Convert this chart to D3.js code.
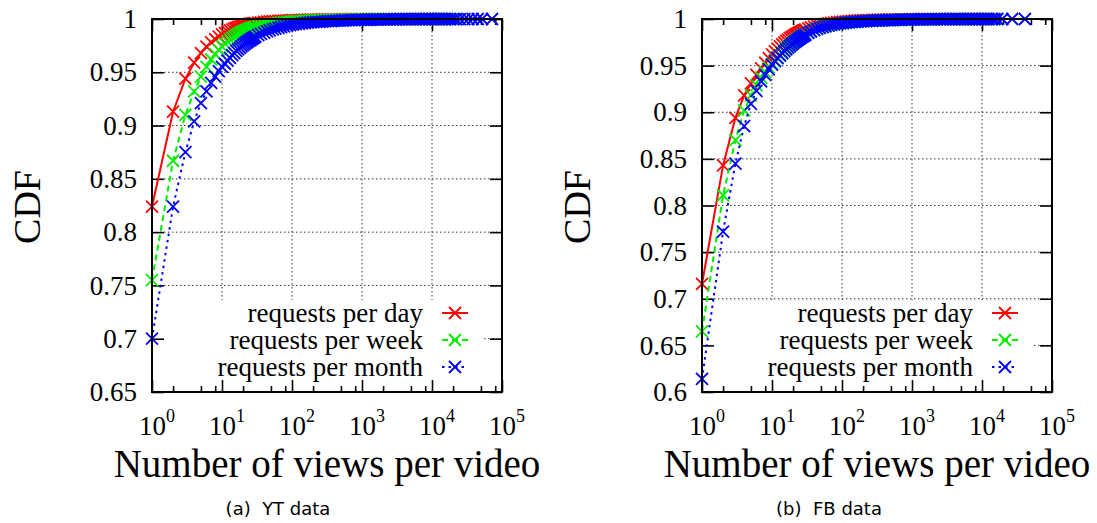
<!DOCTYPE html>
<html>
<head>
<meta charset="utf-8">
<script src="https://cdn.jsdelivr.net/npm/d3@7"></script>
<style>
  html, body { margin: 0; padding: 0; background: #fff; }
  svg { display: block; }
</style>
</head>
<body>
<svg id="fig" width="1097" height="523"></svg>
<script>
// ---- YT panel: views per video and CDF of each request window ----
const ytViews = [
  1, 2, 3, 4, 5, 6, 7, 8, 9, 10,
  11, 12, 13, 14, 15, 16, 17, 18, 19, 20,
  21, 22, 23, 24, 25, 26, 27, 28, 29, 30,
  33, 36, 40, 44, 48, 53, 58, 64, 70, 77,
  85, 94, 103, 113, 125, 138, 152, 167, 184, 202,
  222, 245, 270, 297, 327, 360, 396, 436, 480, 528,
  581, 640, 704, 775, 853, 939, 1030, 1140, 1250, 1380,
  1520, 1670, 1840, 2020, 2220, 2450, 2690, 2960, 3260, 3590,
  3950, 4350, 4780, 5260, 5790, 6370, 7010, 7710, 8480, 9330,
  10300, 11300, 12400, 13700, 15000, 16500, 18200, 20000, 22000, 25000,
  29000, 33000, 38000, 45000, 52000, 72000
];
const ytDay = [
  .824, .913, .944, .959, .968, .974, .978, .981, .9835, .9855,
  .9870, .9883, .9894, .9903, .9911, .9918, .9924, .9929, .9934, .9938,
  .9942, .9945, .9948, .9951, .9953, .9955, .9957, .9959, .9961, .9962,
  .9966, .9969, .9972, .9975, .9977, .9979, .9981, .9983, .9984, .9985,
  .9987, .9988, .9989, .9990, .9991, .9992, .9992, .9993, .9994, .9994,
  .9995, .9995, .9996, .9996, .9996, .9997, .9997, .9997, .9998, .9998,
  .9998, .9998, .9998, .9999, .9999, .9999, .9999, .9999, .9999, .9999,
  .99990, .99991, .99992, .99993, .99994, .99994, .99995, .99995, .99996, .99996,
  .99997, .99997, .99997, .99998, .99998, .99998, .99998, .99999, .99999, .99999,
  .99999, .99999, .99999, 1, 1
];
const ytWeek = [
  .755, .867, .910, .932, .946, .955, .962, .967, .971, .9743,
  .9768, .9790, .9808, .9824, .9837, .9849, .9859, .9868, .9876, .9883,
  .9889, .9895, .9900, .9905, .9909, .9913, .9916, .9919, .9922, .9925,
  .9932, .9938, .9944, .9949, .9953, .9957, .9960, .9964, .9967, .9970,
  .9972, .9975, .9977, .9979, .9981, .9982, .9984, .9985, .9986, .9987,
  .9988, .9989, .9990, .9991, .9992, .9992, .9993, .9994, .9994, .9995,
  .9995, .9996, .9996, .9996, .9997, .9997, .9997, .9998, .9998, .9998,
  .9998, .9998, .99985, .99987, .99988, .99989, .99990, .99991, .99992, .99993,
  .99994, .99994, .99995, .99995, .99996, .99996, .99997, .99997, .99998, .99998,
  .99998, .99998, .99999, .99999, .99999, .99999, .99999, .99999, 1
];
const ytMonth = [
  .700, .824, .875, .904, .921, .932, .940, .946, .951, .955,
  .958, .961, .9635, .966, .968, .970, .9715, .973, .9743, .9755,
  .9766, .9776, .9785, .9794, .9802, .9809, .9816, .9822, .9828, .9834,
  .9848, .9860, .9873, .9884, .9893, .9902, .9910, .9918, .9925, .9931,
  .9937, .9942, .9947, .9951, .9955, .9959, .9962, .9965, .9968, .9970,
  .9972, .9974, .9976, .9978, .9980, .9981, .9983, .9984, .9985, .9986,
  .9987, .9988, .9989, .9990, .9991, .9991, .9992, .9993, .9993, .9994,
  .9994, .9995, .9995, .9996, .9996, .9996, .9997, .9997, .9997, .9998,
  .9998, .9998, .9998, .9998, .9999, .9999, .9999, .9999, .9999, .9999,
  .99991, .99992, .99993, .99994, .99995, .99996, .99996, .99997, .99997, .99998,
  .99998, .99998, .99999, .99999, .99999, 1
];

// ---- FB panel ----
const fbViews = [
  1, 2, 3, 4, 5, 6, 7, 8, 9, 10,
  11, 12, 13, 14, 15, 16, 17, 18, 19, 20,
  21, 22, 23, 24, 25, 26, 27, 28, 29, 30,
  33, 36, 40, 44, 48, 53, 58, 64, 70, 77,
  85, 94, 103, 113, 125, 138, 152, 167, 184, 202,
  222, 245, 270, 297, 327, 360, 396, 436, 480, 528,
  581, 640, 704, 775, 853, 939, 1030, 1140, 1250, 1380,
  1520, 1670, 1840, 2020, 2220, 2450, 2690, 2960, 3260, 3590,
  3950, 4350, 4780, 5260, 5790, 6370, 7010, 7710, 8480, 9330,
  10300, 11300, 12400, 13700, 15000, 16500, 19500, 27000, 41000
];
const fbDay = [
  .716, .843, .894, .918, .931, .940, .947, .953, .958, .962,
  .9653, .9682, .9707, .9729, .9748, .9765, .9780, .9794, .9806, .9817,
  .9827, .9836, .9844, .9852, .9859, .9865, .9871, .9877, .9882, .9887,
  .9899, .9909, .9919, .9928, .9935, .9942, .9948, .9953, .9958, .9962,
  .9966, .9970, .9973, .9975, .9978, .9980, .9982, .9984, .9985, .9987,
  .9988, .9989, .9990, .9991, .9992, .9993, .9993, .9994, .9995, .9995,
  .9996, .9996, .9997, .9997, .9997, .9998, .9998, .9998, .9998, .9999,
  .99991, .99992, .99993, .99994, .99994, .99995, .99995, .99996, .99996, .99997,
  .99997, .99997, .99998, .99998, .99998, .99999, .99999, .99999, .99999, .99999,
  .99999, .99999, .99999, 1
];
const fbWeek = [
  .665, .811, .870, .902, .918, .929, .937, .943, .948, .952,
  .9555, .9587, .9615, .9640, .9662, .9682, .9700, .9716, .9731, .9745,
  .9757, .9769, .9780, .9790, .9799, .9808, .9816, .9823, .9830, .9837,
  .9855, .9870, .9884, .9896, .9906, .9915, .9923, .9930, .9936, .9942,
  .9947, .9952, .9956, .9959, .9963, .9966, .9969, .9971, .9974, .9976,
  .9978, .9979, .9981, .9982, .9984, .9985, .9986, .9987, .9988, .9989,
  .9990, .9991, .9992, .9992, .9993, .9994, .9994, .9995, .9995, .9996,
  .9996, .9996, .9997, .9997, .9997, .9998, .9998, .9998, .9998, .9998,
  .9999, .9999, .9999, .9999, .9999, .9999, .99992, .99993, .99994, .99995,
  .99996, .99997, .99998, .99998, .99999, 1
];
const fbMonth = [
  .614, .772, .845, .885, .909, .923, .933, .940, .946, .951,
  .9548, .9580, .9608, .9633, .9655, .9675, .9693, .9709, .9724, .9738,
  .9751, .9763, .9774, .9784, .9793, .9802, .9810, .9817, .9824, .9831,
  .9850, .9866, .9881, .9894, .9904, .9914, .9922, .9930, .9936, .9942,
  .9947, .9952, .9956, .9960, .9963, .9966, .9969, .9972, .9974, .9976,
  .9978, .9980, .9981, .9983, .9984, .9985, .9986, .9987, .9988, .9989,
  .9990, .9991, .9992, .9993, .9993, .9994, .9995, .9995, .9996, .9996,
  .9996, .9997, .9997, .9997, .9998, .9998, .9998, .9998, .9999, .9999,
  .9999, .9999, .9999, .9999, .9999, .99992, .99993, .99994, .99995, .99996,
  .99996, .99997, .99997, .99998, .99998, .99999, .99999, .99999, 1
];

// ---- axes ----
const xMajor = [1, 10, 100, 1000, 10000, 100000];
const xExponents = ["0", "1", "2", "3", "4", "5"];
const xMinor = [2, 5, 8, 20, 50, 80, 200, 500, 800, 2000, 5000, 8000, 20000, 50000, 80000];
const ytYTicks = [0.65, 0.7, 0.75, 0.8, 0.85, 0.9, 0.95, 1];
const fbYTicks = [0.6, 0.65, 0.7, 0.75, 0.8, 0.85, 0.9, 0.95, 1];

const seriesNames = ["requests per day", "requests per week", "requests per month"];
const seriesColors = ["#ff0000", "#00ee00", "#0000ff"];
const seriesDash = [null, "6,4", "2.5,4"];

const xTitle = "Number of views per video";
const yTitle = "CDF";

const SERIF = '"Liberation Serif", "Times New Roman", serif';
const svg = d3.select("#fig");

const PW = 350, TOP = 19, BOTTOM = 392;

function drawPanel(p) {
  const left = p.left, right = left + PW;
  const g = svg.append("g");
  const x = d3.scaleLog().domain([1, 1e5]).range([left, right]);
  const y = d3.scaleLinear().domain([p.yTicks[0], 1]).range([BOTTOM, TOP]);

  // dotted grid at major ticks
  const grid = g.append("g").attr("stroke", "#333").attr("stroke-width", 1)
    .attr("stroke-dasharray", "1.5,2.5");
  grid.selectAll("line.h").data(p.yTicks.slice(1, -1)).join("line").attr("class", "h")
    .attr("x1", left).attr("x2", right)
    .attr("y1", d => y(d)).attr("y2", d => y(d));
  grid.selectAll("line.v").data(xMajor.slice(1, -1)).join("line").attr("class", "v")
    .attr("y1", TOP).attr("y2", BOTTOM)
    .attr("x1", d => x(d)).attr("x2", d => x(d));

  // opaque key background
  g.append("rect")
    .attr("x", left + 2).attr("y", 300)
    .attr("width", PW - 20).attr("height", BOTTOM - 301)
    .attr("fill", "#fff");

  // ticks (inward, mirrored)
  const tickStyle = sel => {
    sel.select(".domain").remove();
    sel.selectAll(".tick line").attr("stroke", "#000").attr("stroke-width", 1.6);
  };
  const yAxis = g.append("g").attr("transform", `translate(${left},0)`)
    .call(d3.axisLeft(y).tickValues(p.yTicks).tickSizeInner(-12).tickSizeOuter(0)
      .tickPadding(15).tickFormat(d3.format("~g")))
    .call(tickStyle);
  yAxis.selectAll("text").attr("font-family", SERIF).attr("font-size", 27).attr("fill", "#000");

  g.append("g").attr("transform", `translate(${right},0)`)
    .call(d3.axisRight(y).tickValues(p.yTicks).tickSizeInner(-12).tickSizeOuter(0).tickFormat(""))
    .call(tickStyle);

  const xAxis = g.append("g").attr("transform", `translate(0,${BOTTOM})`)
    .call(d3.axisBottom(x).tickValues(xMajor).tickSizeInner(-12).tickSizeOuter(0).tickFormat(""))
    .call(tickStyle);
  g.append("g").attr("transform", `translate(0,${BOTTOM})`)
    .call(d3.axisBottom(x).tickValues(xMinor).tickSizeInner(-6).tickSizeOuter(0).tickFormat(""))
    .call(tickStyle);
  g.append("g").attr("transform", `translate(0,${TOP})`)
    .call(d3.axisTop(x).tickValues(xMajor).tickSizeInner(-12).tickSizeOuter(0).tickFormat(""))
    .call(tickStyle);
  g.append("g").attr("transform", `translate(0,${TOP})`)
    .call(d3.axisTop(x).tickValues(xMinor).tickSizeInner(-6).tickSizeOuter(0).tickFormat(""))
    .call(tickStyle);

  // 10^n labels
  xAxis.selectAll(".tick").each(function (d, i) {
    const t = d3.select(this).append("text")
      .attr("font-family", SERIF).attr("fill", "#000")
      .attr("x", -13.5).attr("y", 43).attr("text-anchor", "start");
    t.append("tspan").attr("font-size", 27).text("10");
    t.append("tspan").attr("font-size", 18).attr("dy", -13).text(xExponents[i]);
  });

  // series: line + cross markers
  const line = d3.line().x(d => x(d[0])).y(d => y(d[1]));
  const cross = "M-6,-6L6,6M-6,6L6,-6";
  p.series.forEach((vals, i) => {
    const pts = vals.map((v, k) => [p.views[k], v]);
    const sg = g.append("g");
    sg.append("path").datum(pts).attr("d", line)
      .attr("fill", "none").attr("stroke", seriesColors[i]).attr("stroke-width", 2)
      .attr("stroke-dasharray", seriesDash[i]);
    sg.selectAll("path.m").data(pts).join("path").attr("class", "m")
      .attr("d", cross)
      .attr("transform", d => `translate(${x(d[0])},${y(d[1])})`)
      .attr("fill", "none").attr("stroke", seriesColors[i]).attr("stroke-width", 1.8);
  });

  // key
  const key = g.append("g");
  seriesNames.forEach((name, i) => {
    const ky = 313 + i * 27;
    key.append("text").attr("x", left + 271).attr("y", ky)
      .attr("dy", "0.32em").attr("text-anchor", "end")
      .attr("font-family", SERIF).attr("font-size", 27).attr("fill", "#000")
      .text(name);
    key.append("line").attr("x1", left + 290).attr("x2", left + 316)
      .attr("y1", ky).attr("y2", ky)
      .attr("stroke", seriesColors[i]).attr("stroke-width", 2)
      .attr("stroke-dasharray", seriesDash[i]);
    key.append("path").attr("d", cross)
      .attr("transform", `translate(${left + 303},${ky})`)
      .attr("fill", "none").attr("stroke", seriesColors[i]).attr("stroke-width", 1.8);
  });

  // frame on top
  g.append("rect").attr("x", left).attr("y", TOP).attr("width", PW).attr("height", BOTTOM - TOP)
    .attr("fill", "none").attr("stroke", "#000").attr("stroke-width", 2);

  // titles
  g.append("text").attr("x", left + PW / 2).attr("y", 477).attr("text-anchor", "middle")
    .attr("font-family", SERIF).attr("font-size", 39).attr("fill", "#000").text(xTitle);
  g.append("text").attr("transform", `translate(${left - 125},${207}) rotate(-90)`)
    .attr("text-anchor", "middle").attr("dy", "0.35em")
    .attr("font-family", SERIF).attr("font-size", 38).attr("fill", "#000").text(yTitle);
  g.append("text").attr("x", p.captionX).attr("y", 515).attr("text-anchor", "middle")
    .attr("font-family", '"DejaVu Sans", sans-serif').attr("font-size", 18)
    .attr("fill", "#000").style("white-space", "pre").text(p.caption);
}

drawPanel({ left: 152, yTicks: ytYTicks, views: ytViews,
  series: [ytDay, ytWeek, ytMonth], caption: "(a)  YT data", captionX: 278 });
drawPanel({ left: 702, yTicks: fbYTicks, views: fbViews,
  series: [fbDay, fbWeek, fbMonth], caption: "(b)  FB data", captionX: 829 });
</script>
</body>
</html>
